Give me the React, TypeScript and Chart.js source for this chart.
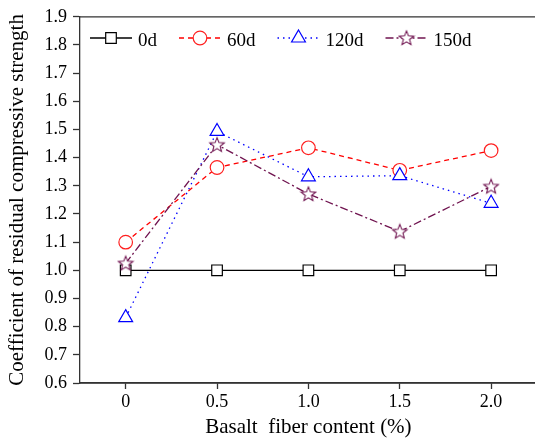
import React, { useEffect, useRef } from "react";
import { Chart, registerables } from "chart.js";

Chart.register(...registerables);

const xValues = [0, 0.5, 1.0, 1.5, 2.0];
const xTickLabels = ["0", "0.5", "1.0", "1.5", "2.0"];
const yTickValues = [0.6, 0.7, 0.8, 0.9, 1.0, 1.1, 1.2, 1.3, 1.4, 1.5, 1.6, 1.7, 1.8, 1.9];
const seriesNames = ["0d", "60d", "120d", "150d"];
const values0d = [1.0, 1.0, 1.0, 1.0, 1.0];
const values60d = [1.1, 1.365, 1.435, 1.355, 1.425];
const values120d = [0.832, 1.493, 1.332, 1.336, 1.238];
const values150d = [1.025, 1.446, 1.271, 1.138, 1.298];
const xTitle = "Basalt  fiber content (%)";
const yTitle = "Coefficient of residual compressive strength";

const FONT = '"Liberation Serif", "Times New Roman", serif';
const STAR_COLOR = "#701450";

function makeStar(color: string): HTMLCanvasElement {
  const c = document.createElement("canvas");
  c.width = 18;
  c.height = 18;
  const g = c.getContext("2d")!;
  const cx = 9, cy = 9.5, R = 7.6, r = 3.3;
  g.beginPath();
  for (let i = 0; i < 10; i++) {
    const rad = i % 2 === 0 ? R : r;
    const a = -Math.PI / 2 + (i * Math.PI) / 5;
    const px = cx + rad * Math.cos(a);
    const py = cy + rad * Math.sin(a);
    if (i === 0) g.moveTo(px, py);
    else g.lineTo(px, py);
  }
  g.closePath();
  g.fillStyle = "#fff";
  g.fill();
  g.strokeStyle = color;
  g.lineWidth = 1.1;
  g.stroke();
  return c;
}

function drawMarker(ctx: CanvasRenderingContext2D, style: any, x: number, y: number, r: number, color: string) {
  ctx.save();
  ctx.setLineDash([]);
  ctx.strokeStyle = color;
  ctx.fillStyle = "#fff";
  ctx.lineWidth = 1.2;
  if (style instanceof HTMLCanvasElement) {
    ctx.drawImage(style, x - style.width / 2, y - style.height / 2);
  } else {
    ctx.beginPath();
    if (style === "circle") {
      ctx.arc(x, y, r, 0, Math.PI * 2);
    } else if (style === "rect") {
      const s = Math.SQRT1_2 * r;
      ctx.rect(x - s, y - s, 2 * s, 2 * s);
    } else if (style === "triangle") {
      let rad = 0;
      ctx.moveTo(x + Math.sin(rad) * r, y - Math.cos(rad) * r);
      rad += (2 * Math.PI) / 3;
      ctx.lineTo(x + Math.sin(rad) * r, y - Math.cos(rad) * r);
      rad += (2 * Math.PI) / 3;
      ctx.lineTo(x + Math.sin(rad) * r, y - Math.cos(rad) * r);
      ctx.closePath();
    }
    ctx.fill();
    ctx.stroke();
  }
  ctx.restore();
}

const framePlugin = {
  id: "frameTop",
  afterDraw(chart: any) {
    const { ctx, chartArea, width } = chart;
    ctx.save();
    ctx.strokeStyle = "#333";
    ctx.lineWidth = 1.3;
    ctx.beginPath();
    ctx.moveTo(chartArea.left, chartArea.top);
    ctx.lineTo(width, chartArea.top);
    ctx.moveTo(chartArea.left, chartArea.bottom);
    ctx.lineTo(width, chartArea.bottom);
    ctx.stroke();
    ctx.restore();
  },
};

const legendPlugin = {
  id: "customLegend",
  afterDraw(chart: any) {
    const ctx: CanvasRenderingContext2D = chart.ctx;
    ctx.save();
    ctx.font = `19px ${FONT}`;
    let x = 90;
    const y = 38;
    chart.data.datasets.forEach((ds: any) => {
      ctx.setLineDash(ds.borderDash || []);
      ctx.strokeStyle = ds.borderColor;
      ctx.lineWidth = ds.borderWidth;
      ctx.beginPath();
      ctx.moveTo(x, y);
      ctx.lineTo(x + 42, y);
      ctx.stroke();
      drawMarker(ctx, ds.pointStyle, x + 21, y, ds.pointRadius, ds.pointBorderColor);
      ctx.setLineDash([]);
      ctx.fillStyle = "#000";
      ctx.textBaseline = "alphabetic";
      ctx.textAlign = "left";
      ctx.fillText(ds.label, x + 48, y + 8);
      x += 48 + ctx.measureText(ds.label).width + 22;
    });
    ctx.restore();
  },
};

export default function App() {
  const ref = useRef<HTMLCanvasElement>(null);
  useEffect(() => {
    const canvas = ref.current!;
    const star = makeStar(STAR_COLOR);
    const pts = (arr: number[]) => arr.map((v, i) => ({ x: xValues[i], y: v }));
    const chart = new Chart(canvas, {
      type: "line",
      data: {
        datasets: [
          {
            label: seriesNames[0],
            data: pts(values0d),
            borderColor: "#000",
            pointBorderColor: "#000",
            pointBackgroundColor: "#fff",
            borderWidth: 1.3,
            pointBorderWidth: 1.2,
            pointStyle: "rect",
            pointRadius: 7.5,
            borderDash: [],
            order: 3,
          },
          {
            label: seriesNames[1],
            data: pts(values60d),
            borderColor: "#ff0000",
            pointBorderColor: "#ff2020",
            pointBackgroundColor: "#fff",
            borderWidth: 1.3,
            pointBorderWidth: 1.2,
            pointStyle: "circle",
            pointRadius: 6.8,
            borderDash: [5, 4],
            order: 2,
          },
          {
            label: seriesNames[2],
            data: pts(values120d),
            borderColor: "#0000ff",
            pointBorderColor: "#0000ff",
            pointBackgroundColor: "#fff",
            borderWidth: 1.3,
            pointBorderWidth: 1.2,
            pointStyle: "triangle",
            pointRadius: 8,
            borderDash: [1.5, 4],
            order: 1,
          },
          {
            label: seriesNames[3],
            data: pts(values150d),
            borderColor: STAR_COLOR,
            pointBorderColor: STAR_COLOR,
            pointBackgroundColor: "#fff",
            borderWidth: 1.3,
            pointBorderWidth: 1.2,
            pointStyle: star as any,
            pointRadius: 7,
            borderDash: [8, 3, 2, 3],
            order: 0,
          },
        ] as any,
      },
      options: {
        animation: false,
        responsive: false,
        devicePixelRatio: 1,
        layout: { padding: { left: 0, top: 16, right: 4.5, bottom: 0 } },
        plugins: { legend: { display: false }, tooltip: { enabled: false } },
        elements: { line: { tension: 0 } },
        scales: {
          x: {
            type: "linear",
            min: -0.25,
            max: 2.25,
            afterBuildTicks: (scale: any) => {
              scale.ticks = xValues.map((v) => ({ value: v }));
            },
            afterFit: (scale: any) => {
              scale.height = 58;
            },
            grid: {
              display: true,
              drawOnChartArea: false,
              drawTicks: true,
              tickLength: 6,
              tickColor: "#333",
              tickWidth: 1.3,
            },
            border: { display: true, color: "#333", width: 1.3 },
            ticks: {
              color: "#000",
              font: { family: FONT, size: 18 },
              padding: 2,
              maxRotation: 0,
              autoSkip: false,
              callback: (v: any) => {
                const i = xValues.indexOf(Number(v));
                return i >= 0 ? xTickLabels[i] : "";
              },
            },
            title: {
              display: true,
              text: xTitle,
              color: "#000",
              font: { family: FONT, size: 21 },
              padding: { top: 0, bottom: 1 },
            },
          },
          y: {
            type: "linear",
            min: 0.6,
            max: 1.9,
            afterBuildTicks: (scale: any) => {
              scale.ticks = yTickValues.map((v) => ({ value: v }));
            },
            afterFit: (scale: any) => {
              scale.width = 80;
            },
            grid: {
              display: true,
              drawOnChartArea: false,
              drawTicks: true,
              tickLength: 7,
              tickColor: "#333",
              tickWidth: 1.3,
            },
            border: { display: true, color: "#333", width: 1.3 },
            ticks: {
              color: "#000",
              font: { family: FONT, size: 18 },
              padding: 6,
              autoSkip: false,
              callback: (v: any) => Number(v).toFixed(1),
            },
            title: {
              display: true,
              text: yTitle,
              color: "#000",
              font: { family: FONT, size: 21 },
              padding: { top: 5, bottom: 0 },
            },
          },
        },
      } as any,
      plugins: [framePlugin, legendPlugin],
    });
    return () => chart.destroy();
  }, []);
  return (
    <div
      style={{
        position: "fixed",
        left: 0,
        top: 0,
        width: 535,
        height: 441,
        overflow: "hidden",
        background: "#fff",
      }}
    >
      <canvas ref={ref} width={546} height={441} style={{ width: 546, height: 441, display: "block" }} />
    </div>
  );
}
